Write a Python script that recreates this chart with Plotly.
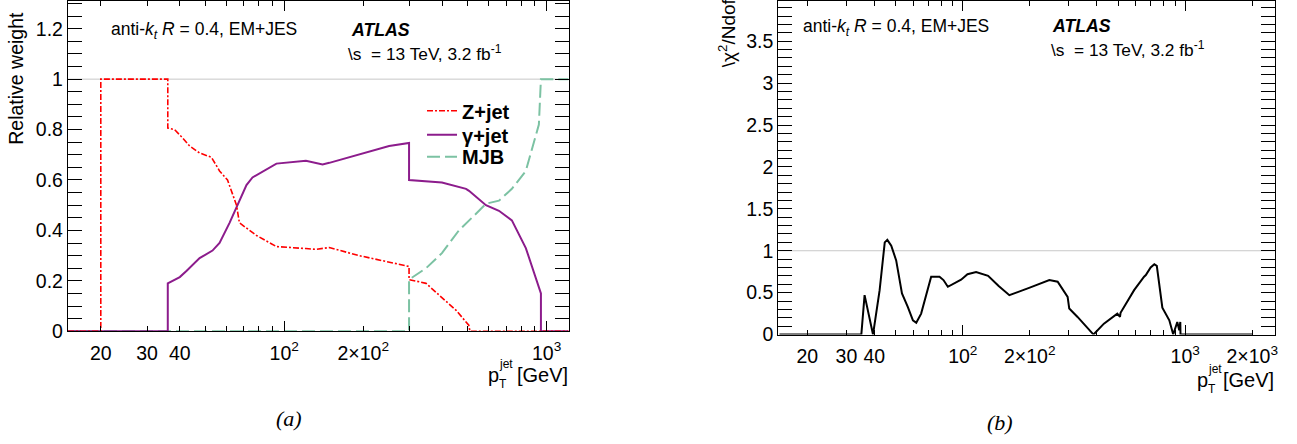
import plotly.graph_objects as go

# The page is photographed through a slightly taller view that is squashed to 444 px,
# so the figure is laid out in "reference pixels" (REF_H) inside a FIG_H tall canvas.
W, REF_H, FIG_H = 1297, 444, 455

# ---------------- data ----------------
# Panel (a): relative weights vs pT [GeV]
pt_z = [15, 20, 20, 36, 36, 38.2, 41, 43.6, 47.6, 52.8, 56.7, 60.8, 65.8, 67.5, 78.4, 93.4,
        121, 132, 148.5, 193, 299, 299, 347, 399, 452, 505, 510, 1210]
w_z = [0, 0, 1, 1, 0.806, 0.80, 0.767, 0.735, 0.707, 0.69, 0.636, 0.60, 0.50, 0.43, 0.38, 0.336,
       0.328, 0.325, 0.332, 0.30, 0.257, 0.205, 0.19, 0.134, 0.083, 0.024, 0, 0]

pt_g = [15, 36, 36, 40, 42.5, 47.6, 53.3, 56.7, 61.9, 67.5, 71.8, 75.7, 93.4, 121, 140, 148.5,
        193, 251, 299, 299, 399, 493, 506, 587, 658, 737, 833, 934, 951, 951, 1210]
w_g = [0, 0, 0.19, 0.215, 0.24, 0.29, 0.32, 0.35, 0.43, 0.52, 0.58, 0.61, 0.665, 0.676, 0.662, 0.668,
       0.70, 0.735, 0.747, 0.60, 0.59, 0.565, 0.557, 0.50, 0.478, 0.44, 0.33, 0.18, 0.15, 0, 0]

pt_m = [15, 299, 299, 347, 399, 463, 538, 587, 658, 737, 833, 934, 951, 1210]
w_m = [0, 0, 0.205, 0.25, 0.31, 0.40, 0.466, 0.506, 0.518, 0.565, 0.636, 0.82, 1.0, 1.0]

# Panel (b): sqrt(chi2/Ndof) vs pT [GeV]
pt_c = [15, 35, 36.2, 39.5, 42.3, 44.6, 45.8, 47.7, 50.2, 53.3, 56.6, 59.7, 61.8, 65, 72.1, 78.6,
        81.9, 85.7, 98.3, 105, 114.8, 130, 145, 162, 200, 245, 267, 296, 301, 328, 387, 431, 495,
        509, 512, 589, 653, 665, 699, 726, 745, 789, 848, 883, 921, 940, 950, 952, 2000]
chi = [0, 0, 0.47, 0, 0.53, 1.10, 1.13, 1.06, 0.885, 0.49, 0.33, 0.17, 0.14, 0.25, 0.69, 0.69,
       0.65, 0.57, 0.655, 0.72, 0.745, 0.70, 0.58, 0.47, 0.56, 0.65, 0.63, 0.45, 0.31, 0.21, 0, 0.13, 0.25,
       0.21, 0.26, 0.53, 0.69, 0.71, 0.80, 0.84, 0.82, 0.32, 0.17, 0, 0.15, 0.05, 0.15, 0, 0]

# tick labels
xt_a_vals = [20, 30, 40, 50, 60, 70, 80, 90, 100, 200, 300, 400, 500, 600, 700, 800, 900, 1000]
xt_a_text = ["20", "30", "40", "", "", "", "", "", "10<sup>2</sup>", "2×10<sup>2</sup>",
             "", "", "", "", "", "", "", "10<sup>3</sup>"]
xt_b_vals = xt_a_vals + [2000]
xt_b_text = xt_a_text + ["2×10<sup>3</sup>"]
decades = [100, 1000]
yt_a_vals = [0, 0.2, 0.4, 0.6, 0.8, 1.0, 1.2]
yt_a_text = ["0", "0.2", "0.4", "0.6", "0.8", "1", "1.2"]
yt_b_vals = [0, 0.5, 1, 1.5, 2, 2.5, 3, 3.5, 4]
yt_b_text = ["0", "0.5", "1", "1.5", "2", "2.5", "3", "3.5", "4"]

# ---------------- helpers ----------------
def px(x):
    return x / W

def py(y):
    return 1 - y / REF_H

FONT = "Liberation Sans"
RED = "#ff0000"
PURPLE = "#8c1c8c"
GREEN = "#7cc2a3"

fig = go.Figure()

# reference lines at 1
fig.add_trace(go.Scatter(x=[15, 1210], y=[1, 1], mode="lines", line=dict(color="#c8c8c8", width=1),
                         xaxis="x", yaxis="y", showlegend=False, hoverinfo="skip"))
fig.add_trace(go.Scatter(x=[15, 2540], y=[1, 1], mode="lines", line=dict(color="#c8c8c8", width=1),
                         xaxis="x2", yaxis="y2", showlegend=False, hoverinfo="skip"))

fig.add_trace(go.Scatter(x=pt_m, y=w_m, mode="lines", name="<b>MJB</b>",
                         line=dict(color=GREEN, width=2, dash="13px,5px"), xaxis="x", yaxis="y",
                         legend="legend3"))
fig.add_trace(go.Scatter(x=pt_g, y=w_g, mode="lines", name="<b>γ+jet</b>",
                         line=dict(color=PURPLE, width=2), xaxis="x", yaxis="y", legend="legend2"))
fig.add_trace(go.Scatter(x=pt_z, y=w_z, mode="lines", name="<b>Z+jet</b>",
                         line=dict(color=RED, width=1.6, dash="6px,2px,2px,2px"), xaxis="x", yaxis="y",
                         legend="legend"))

fig.add_trace(go.Scatter(x=pt_c, y=chi, mode="lines", line=dict(color="black", width=2),
                         xaxis="x2", yaxis="y2", showlegend=False))

# invisible anchors for overlay decade-tick axes
fig.add_trace(go.Scatter(x=[100], y=[0.5], mode="markers", marker=dict(opacity=0),
                         xaxis="x3", yaxis="y", showlegend=False, hoverinfo="skip"))
fig.add_trace(go.Scatter(x=[100], y=[0.5], mode="markers", marker=dict(opacity=0),
                         xaxis="x4", yaxis="y2", showlegend=False, hoverinfo="skip"))

# ranges (log10)
xr_a = [1.1755, 3.0866]
xr_b = [1.1704, 3.4036]
dom_xa = [px(68), px(570.7)]
dom_xb = [px(780), px(1278)]
dom_ya = [py(331), 1.0]
dom_yb = [py(334.3), 1.0]

tickfont = dict(family=FONT, size=19.5, color="black")
common_x = dict(type="log", ticks="inside", ticklen=5, tickwidth=1, tickcolor="black",
                showline=True, linecolor="black", linewidth=1, mirror="allticks",
                showgrid=False, zeroline=False, tickfont=tickfont, tickmode="array",
                ticklabelstandoff=4)
common_y = dict(ticks="inside", ticklen=14, tickwidth=1, tickcolor="black",
                showline=True, linecolor="black", linewidth=1, mirror="allticks",
                showgrid=False, zeroline=False, tickfont=tickfont, tickmode="array")

legfont = dict(family=FONT, size=20, color="black")
def leg(ycen):
    return dict(x=px(423), y=py(ycen), xanchor="left", yanchor="middle", bgcolor="rgba(0,0,0,0)",
                font=legfont, itemwidth=30, borderwidth=0)

fig.update_layout(
    width=W, height=FIG_H, autosize=False,
    margin=dict(l=0, r=0, t=0, b=0),
    paper_bgcolor="white", plot_bgcolor="white",
    xaxis=dict(domain=dom_xa, anchor="y", range=xr_a, tickvals=xt_a_vals, ticktext=xt_a_text, **common_x),
    xaxis3=dict(domain=dom_xa, anchor="y", overlaying="x", range=xr_a, type="log", tickmode="array",
                tickvals=decades, ticks="inside", ticklen=10, tickcolor="black", mirror="allticks",
                showline=True, linecolor="black", showticklabels=False, showgrid=False, zeroline=False),
    yaxis=dict(domain=dom_ya, anchor="x", range=[0, 1.31], tickvals=yt_a_vals, ticktext=yt_a_text,
               minor=dict(ticks="inside", dtick=0.05, ticklen=7, tickcolor="black", showgrid=False),
               **common_y),
    xaxis2=dict(domain=dom_xb, anchor="y2", range=xr_b, tickvals=xt_b_vals, ticktext=xt_b_text, **common_x),
    xaxis4=dict(domain=dom_xb, anchor="y2", overlaying="x2", range=xr_b, type="log", tickmode="array",
                tickvals=decades, ticks="inside", ticklen=10, tickcolor="black", mirror="allticks",
                showline=True, linecolor="black", showticklabels=False, showgrid=False, zeroline=False),
    yaxis2=dict(domain=dom_yb, anchor="x2", range=[0, 3.98], tickvals=yt_b_vals, ticktext=yt_b_text,
                minor=dict(ticks="inside", dtick=0.1, ticklen=7, tickcolor="black", showgrid=False),
                **common_y),
    legend=leg(110),
    legend2=leg(134),
    legend3=leg(156),
    showlegend=True,
)

ann = []

def text(x, y, s, size=17.5, xanchor="left", yanchor="middle", family=FONT, angle=0):
    ann.append(dict(x=px(x), y=py(y), xref="paper", yref="paper", text=s, showarrow=False,
                    xanchor=xanchor, yanchor=yanchor, textangle=angle,
                    font=dict(family=family, size=size, color="black")))

label_ak = "anti-<i>k</i><sub><i>t</i></sub> <i>R</i> = 0.4, EM+JES"
label_s = "\\s\u00a0 = 13 TeV, 3.2 fb<sup>-1</sup>"

# panel (a) labels
text(109, 30, label_ak)
text(350, 29, "<b><i>ATLAS</i></b>", size=17.7)
text(347, 52, label_s, size=17.3)
text(16, 77, "Relative weight", size=19.5, xanchor="center", angle=-90)
text(487, 375, "p", size=20)
text(498, 364, "jet", size=12)
text(498, 384, "T", size=12)
text(571, 375, "[GeV]", size=20, xanchor="right")
text(290, 418, "<i>(a)</i>", size=22, xanchor="center", family="Liberation Serif")

# panel (b) labels
text(803, 27, label_ak)
text(1052, 25, "<b><i>ATLAS</i></b>", size=17.7)
text(1051, 48, label_s, size=17.3)
text(729, 32, "\\χ<sup>2</sup>/Ndof", size=19, xanchor="center", angle=-90)
text(1198, 380, "p", size=20)
text(1209, 369, "jet", size=12)
text(1209, 389, "T", size=12)
text(1279, 380, "[GeV]", size=20, xanchor="right")
text(1002, 422, "<i>(b)</i>", size=22, xanchor="center", family="Liberation Serif")

fig.update_layout(annotations=ann)

fig.write_html("out.html", config={"displayModeBar": False},
               post_script="document.body.style.margin='0';")
